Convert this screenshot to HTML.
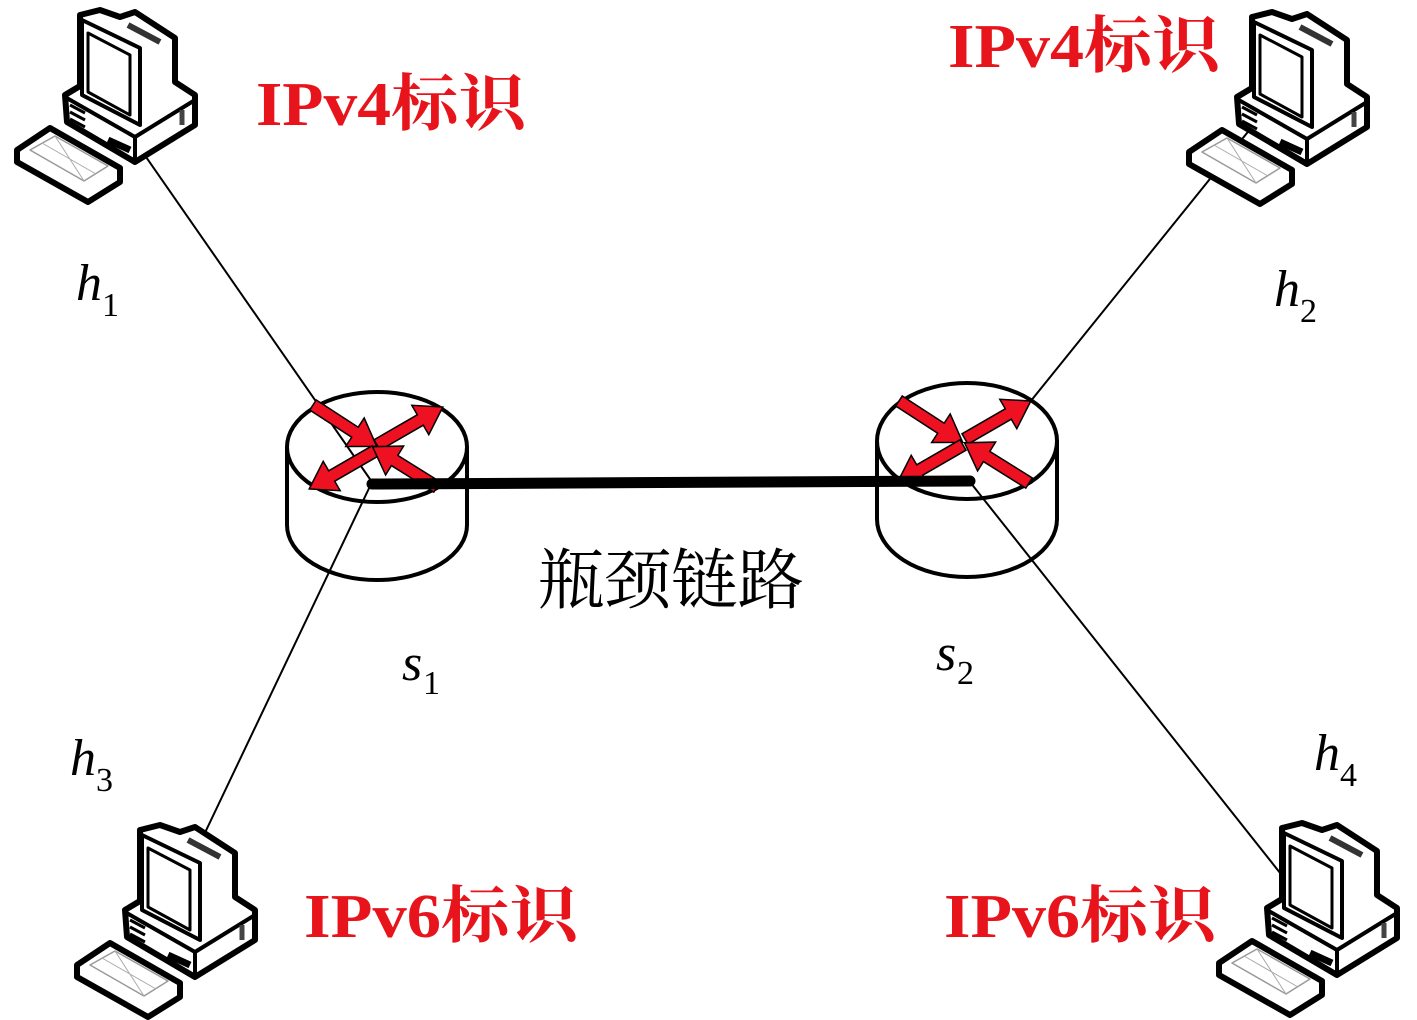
<!DOCTYPE html>
<html><head><meta charset="utf-8"><style>
html,body{margin:0;padding:0;background:#fff;}
svg{display:block;}
.lab{font-family:"Liberation Serif","Noto Serif CJK SC",serif;font-weight:bold;fill:#e8141c;font-size:62px;}
.m{font-family:"Liberation Serif",serif;font-style:italic;font-size:52px;fill:#000;}
.sub{font-family:"Liberation Serif",serif;font-size:34px;fill:#000;}
</style></head><body>
<svg width="1417" height="1020" viewBox="0 0 1417 1020" xmlns="http://www.w3.org/2000/svg">
<defs>
<g id="pc" stroke="#000" stroke-linejoin="round" fill="#fff">
  <path d="M80,15 L100,10 L120,17 L135,12 L175,38 L175,82 L195,95 L195,125 L135,162 L67,122 L65,95 L80,86 Z" stroke-width="6"/>
  <path d="M82,20 L140,48 L140,125 L82,95 Z" stroke-width="4"/>
  <path d="M88,33 L130,55 L130,115 L88,92 Z" stroke-width="3"/>
  <path d="M65,97 L135,137 L135,162 M135,137 L195,100" stroke-width="4" fill="none"/>
  <path d="M70,105 L85,113 M70,112 L85,120 M70,119 L85,127" stroke-width="3"/>
  <path d="M108,140 L130,150" stroke-width="7"/>
  <path d="M182,110 L182,125" stroke-width="5" stroke="#444"/>
  <path d="M128,25 L160,42" stroke-width="6" stroke="#333"/>
  <path d="M17,150 L50,128 L120,168 L120,182 L88,202 L17,162 Z" stroke-width="6"/>
  <path d="M30,150 L55,136 L108,166 L84,181 Z" stroke-width="1.5" stroke="#999" fill="none"/>
  <path d="M42,143 L96,174 M55,136 L84,181" stroke-width="1" stroke="#aaa" fill="none"/>
</g>
<polygon id="ar" points="0,-6 50,-6 50,-17 76,0 50,17 50,6 0,6" fill="#ee1122" stroke="#000" stroke-width="1.5"/>
</defs>

<g stroke="#000" stroke-width="2" fill="none">
<line x1="112" y1="108" x2="372" y2="482"/>
<line x1="372" y1="482" x2="192" y2="860"/>
<line x1="1272" y1="102" x2="1030" y2="402"/>
<line x1="970" y1="482" x2="1292" y2="888"/>
</g>

<use href="#pc" x="0" y="0"/>
<use href="#pc" x="1172" y="2"/>
<use href="#pc" x="60" y="815"/>
<use href="#pc" x="1202" y="813"/>

<g stroke="#000" stroke-width="4" fill="none">
<path d="M287,447 L287,525 A90,55 0 0 0 467,525 L467,447"/>
<ellipse cx="377" cy="447" rx="90" ry="55"/>
<path d="M877,441 L877,519 A90,58 0 0 0 1057,519 L1057,441"/>
<ellipse cx="967" cy="441" rx="90" ry="58"/>
</g>

<g transform="translate(377,447)">
<use href="#ar" transform="translate(-64,-42) rotate(33)"/>
<use href="#ar" transform="translate(0,-2) rotate(-30)"/>
<use href="#ar" transform="translate(-2,4) rotate(150)"/>
<use href="#ar" transform="translate(60,40) rotate(-148)"/>
</g>
<g transform="translate(967,441)">
<use href="#ar" transform="translate(-68,-40) rotate(33)"/>
<use href="#ar" transform="translate(-2,-2) rotate(-30)"/>
<use href="#ar" transform="translate(-4,4) rotate(150)"/>
<use href="#ar" transform="translate(62,42) rotate(-148)"/>
</g>

<line x1="372" y1="484" x2="970" y2="481" stroke="#000" stroke-width="11" stroke-linecap="round"/>

<text class="lab" x="256" y="125" textLength="270" lengthAdjust="spacingAndGlyphs">IPv4标识</text>
<text class="lab" x="948" y="67" textLength="272" lengthAdjust="spacingAndGlyphs">IPv4标识</text>
<text class="lab" x="304" y="937" textLength="274" lengthAdjust="spacingAndGlyphs">IPv6标识</text>
<text class="lab" x="944" y="937" textLength="272" lengthAdjust="spacingAndGlyphs">IPv6标识</text>

<text x="538" y="603" font-family="Liberation Serif,'Noto Serif CJK SC',serif" font-size="66" fill="#000" textLength="266" lengthAdjust="spacingAndGlyphs">瓶颈链路</text>

<text class="m" x="76" y="300">h</text><text class="sub" x="102" y="316">1</text>
<text class="m" x="1274" y="306">h</text><text class="sub" x="1300" y="322">2</text>
<text class="m" x="70" y="775">h</text><text class="sub" x="96" y="791">3</text>
<text class="m" x="1314" y="770">h</text><text class="sub" x="1340" y="786">4</text>
<text class="m" x="402" y="680">s</text><text class="sub" x="423" y="694">1</text>
<text class="m" x="936" y="670">s</text><text class="sub" x="957" y="684">2</text>
</svg>
</body></html>
